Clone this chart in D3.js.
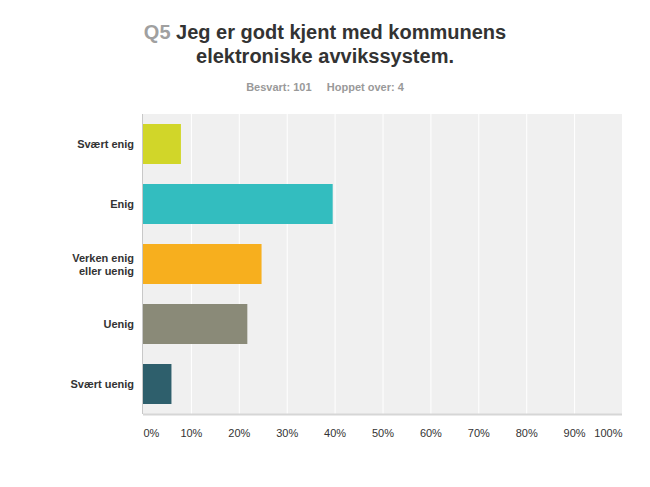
<!DOCTYPE html>
<html>
<head>
<meta charset="utf-8">
<script src="https://cdn.jsdelivr.net/npm/d3@7"></script>
<style>
  body { margin: 0; background: #fff; }
  svg { font-family: Arial, "Liberation Sans", sans-serif; }
</style>
</head>
<body>
<div id="chart"></div>
<script>
var categories = ['Svært enig', 'Enig', 'Verken enig\neller uenig', 'Uenig', 'Svært uenig'];
var values = [7.92, 39.60, 24.75, 21.78, 5.94];
var colors = ['#d1d629', '#33bdbf', '#f7af1e', '#8a8a78', '#2e5f6c'];
var ticks = [0, 10, 20, 30, 40, 50, 60, 70, 80, 90, 100];

var m = { left: 143, right: 28, top: 114, bottom: 73 };
var W = 650, H = 487;
var w = W - m.left - m.right, h = H - m.top - m.bottom;

var svg = d3.select('#chart').append('svg')
  .attr('width', W)
  .attr('height', H);

// title
var title = svg.append('text')
  .attr('x', 325)
  .attr('y', 39)
  .attr('text-anchor', 'middle')
  .attr('font-size', 20)
  .attr('font-weight', 'bold')
  .attr('fill', '#333');
title.append('tspan').attr('fill', '#a0a0a0').text('Q5');
title.append('tspan').text(' Jeg er godt kjent med kommunens');
svg.append('text')
  .attr('x', 325)
  .attr('y', 63)
  .attr('text-anchor', 'middle')
  .attr('font-size', 20)
  .attr('font-weight', 'bold')
  .attr('fill', '#333')
  .text('elektroniske avvikssystem.');

svg.append('text')
  .attr('x', 325)
  .attr('y', 91)
  .attr('text-anchor', 'middle')
  .attr('font-size', 11)
  .attr('font-weight', 'bold')
  .attr('fill', '#999')
  .attr('xml:space', 'preserve')
  .text('Besvart: 101     Hoppet over: 4');

var g = svg.append('g')
  .attr('transform', 'translate(' + m.left + ',' + m.top + ')');

var xScale = d3.scaleLinear().domain([0, 100]).range([0, w]);
var yScale = d3.scaleBand().domain(categories).range([0, h]).paddingInner(1 / 3).paddingOuter(1 / 6);

g.append('rect')
  .attr('width', w)
  .attr('height', h)
  .attr('fill', '#f0f0f0');

g.selectAll('.grid')
  .data(ticks.slice(1))
  .enter().append('line')
  .attr('x1', function (d) { return xScale(d) + 0.5; })
  .attr('x2', function (d) { return xScale(d) + 0.5; })
  .attr('y1', 0)
  .attr('y2', h)
  .attr('stroke', '#fff')
  .attr('stroke-width', 1);

g.selectAll('.bar')
  .data(values)
  .enter().append('rect')
  .attr('x', 0)
  .attr('y', function (d, i) { return yScale(categories[i]); })
  .attr('width', function (d) { return xScale(d); })
  .attr('height', yScale.bandwidth())
  .attr('fill', function (d, i) { return colors[i]; });

// axis lines
g.append('line')
  .attr('x1', 0).attr('x2', w)
  .attr('y1', h + 0.5).attr('y2', h + 0.5)
  .attr('stroke', '#d6d6d6').attr('stroke-width', 2);
g.append('line')
  .attr('x1', -0.5).attr('x2', -0.5)
  .attr('y1', 0).attr('y2', h)
  .attr('stroke', '#c8c8c8').attr('stroke-width', 1);

// x tick labels
var xAxis = d3.axisBottom(xScale).tickValues(ticks).tickSize(0).tickPadding(0)
  .tickFormat(function (d) { return d + '%'; });
var xa = g.append('g')
  .attr('transform', 'translate(0,' + (h + 23) + ')')
  .call(xAxis);
xa.select('.domain').remove();
xa.selectAll('text')
  .attr('font-size', 11)
  .attr('font-family', 'Arial, "Liberation Sans", sans-serif')
  .attr('fill', '#333')
  .attr('dy', 0)
  .attr('text-anchor', function (d, i) { return i === 0 ? 'start' : (i === ticks.length - 1 ? 'end' : 'middle'); });

// category labels
var yAxis = d3.axisLeft(yScale).tickSize(0).tickPadding(0).tickFormat('');
var ya = g.append('g').call(yAxis);
ya.select('.domain').remove();
ya.selectAll('.tick').each(function (d) {
  var lines = d.split('\n');
  var t = d3.select(this).append('text')
    .attr('x', -9)
    .attr('text-anchor', 'end')
    .attr('font-size', 11)
    .attr('font-weight', 'bold')
    .attr('font-family', 'Arial, "Liberation Sans", sans-serif')
    .attr('fill', '#333');
  lines.forEach(function (l, i) {
    t.append('tspan')
      .attr('x', -9)
      .attr('y', (i - (lines.length - 1) / 2) * 13 + 4)
      .text(l);
  });
});
</script>
</body>
</html>
